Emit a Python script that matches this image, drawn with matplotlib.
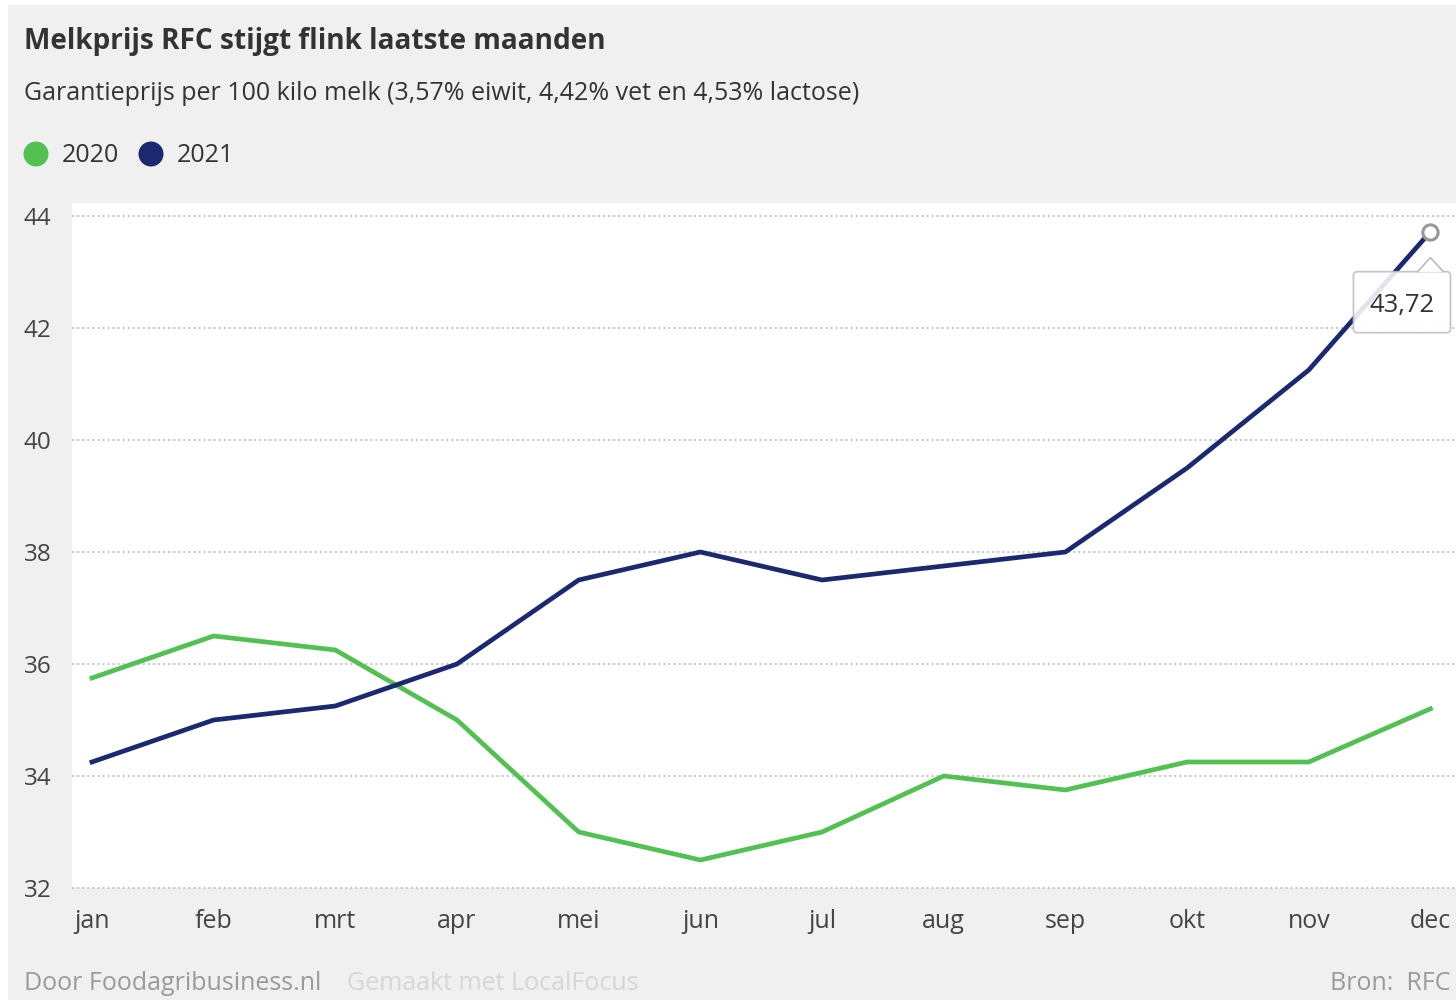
import matplotlib
matplotlib.use("Agg")
import matplotlib.pyplot as plt
from matplotlib.patches import Rectangle, FancyBboxPatch, Polygon, Ellipse
from matplotlib.lines import Line2D
from matplotlib.transforms import Affine2D

plt.rcParams['font.family'] = ['Open Sans', 'DejaVu Sans']

# data
months = ["jan", "feb", "mrt", "apr", "mei", "jun", "jul", "aug", "sep", "okt", "nov", "dec"]
prijs_2020 = [35.75, 36.5, 36.25, 35.0, 33.0, 32.5, 33.0, 34.0, 33.75, 34.25, 34.25, 35.2]
prijs_2021 = [34.25, 35.0, 35.25, 36.0, 37.5, 38.0, 37.5, 37.75, 38.0, 39.5, 41.25, 43.72]
yticks = [32, 34, 36, 38, 40, 42, 44]

green = "#52c152"
navy = "#1c2870"
W, H = 1456, 1000

fig = plt.figure(figsize=(W / 100, H / 100), dpi=100, facecolor="white")
# gray card background
fig.patches.append(Rectangle((8 / W, 0), 1 - 8 / W, 1 - 5 / H, transform=fig.transFigure,
                             facecolor="#f0f0f0", edgecolor="none", zorder=-5))

fig.text(24 / W, 1 - 41 / H, "Melkprijs RFC stijgt flink laatste maanden", fontsize=20.2,
         fontweight="bold", color="#333333", va="center", ha="left")
fig.text(24 / W, 1 - 93 / H, "Garantieprijs per 100 kilo melk (3,57% eiwit, 4,42% vet en 4,53% lactose)",
         fontsize=18, color="#333333", va="center", ha="left")

# legend
for x0, col, lab in [(36, green, "2020"), (151, navy, "2021")]:
    fig.patches.append(Ellipse((x0 / W, 1 - 154 / H), 25 / W, 25 / H, transform=fig.transFigure,
                               facecolor=col, edgecolor="none"))
    fig.text((x0 + 26) / W, 1 - 155 / H, lab, fontsize=18, color="#333333", va="center", ha="left")

ax = fig.add_axes([72 / W, 112 / H, (W - 72) / W, 685 / H])
ax.set_facecolor("white")
x = list(range(len(months)))
ax.plot(x, prijs_2020, color=green, lw=3.4, solid_joinstyle="round", zorder=3)
ax.plot(x, prijs_2021, color=navy, lw=3.4, solid_joinstyle="round", zorder=3)

ax.set_xlim(-0.164, 11.21)
ax.set_ylim(32, 44.232)
for s in ax.spines.values():
    s.set_visible(False)
for yv in yticks:
    ax.axhline(yv, color="#c4c4c4", lw=1.3, ls=(0, (1.2, 1.6)), zorder=1, clip_on=False)

ax.set_yticks(yticks)
ax.set_yticklabels([str(v) for v in yticks], ha="left", fontsize=17.5, color="#444444")
ax.tick_params(axis="y", length=0, pad=34.6)
ax.set_xticks(x)
ax.set_xticklabels(months, fontsize=18, color="#444444")
ax.tick_params(axis="x", length=0, pad=15)

# highlighted last point with tooltip
ax.plot([x[-1]], [prijs_2021[-1]], marker="o", ms=11, mfc="white", mec="#999999", mew=2.2, zorder=5)
px, py = ax.transData.transform((x[-1], prijs_2021[-1]))
tr = Affine2D().translate(px, py)
box = FancyBboxPatch((-77, -101), 97, 61, boxstyle="round,pad=0,rounding_size=4",
                     transform=tr, facecolor="white", edgecolor="#bbbbbb", lw=1.2, alpha=0.88, zorder=6)
fig.patches.append(box)
tri = Polygon([(-13, -40.5), (0, -26), (13, -40.5)], closed=True, transform=tr,
              facecolor="white", edgecolor="none", alpha=0.95, zorder=7)
fig.patches.append(tri)
fig.lines.append(Line2D([-13, 0, 13], [-40, -26, -40], transform=tr, color="#bbbbbb", lw=1.2, zorder=8))
fig.text(px - 28.5, py - 74, "43,72", transform=None, fontsize=18.5, color="#333333",
         ha="center", va="center", zorder=9)

# footer
fig.text(24 / W, 1 - 984 / H, "Door Foodagribusiness.nl", fontsize=18, color="#9a9a9a", va="center")
fig.text(347 / W, 1 - 984 / H, "Gemaakt met LocalFocus", fontsize=18, color="#d6d6d6", va="center")
fig.text(1450 / W, 1 - 984 / H, "Bron:  RFC", fontsize=18, color="#9a9a9a", va="center", ha="right")

fig.savefig("out.png", dpi=100, facecolor=fig.get_facecolor())
